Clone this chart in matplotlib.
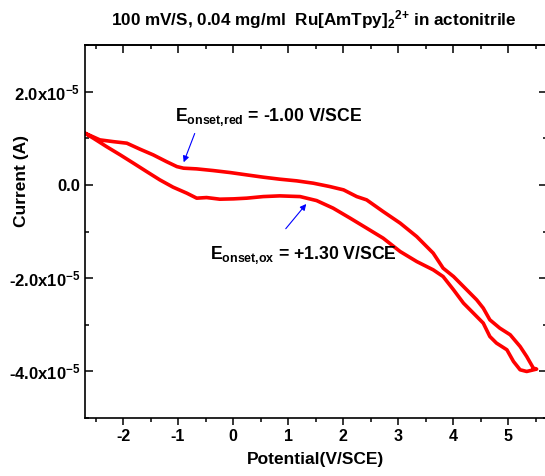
import matplotlib
matplotlib.use("Agg")
import matplotlib.pyplot as plt
from matplotlib.ticker import MultipleLocator, FixedLocator, FixedFormatter

plt.rcParams['font.family'] = ['Liberation Sans', 'DejaVu Sans']
plt.rcParams['font.weight'] = 'bold'
plt.rcParams['axes.unicode_minus'] = False
plt.rcParams['mathtext.fontset'] = 'custom'
plt.rcParams['mathtext.rm'] = 'Liberation Sans:bold'
plt.rcParams['mathtext.it'] = 'Liberation Sans:bold'
plt.rcParams['mathtext.bf'] = 'Liberation Sans:bold'

# Cyclic voltammogram (potential V/SCE, current in units of 1e-5 A)
potential = [-2.69, -2.42, -2.18, -1.93, -1.69, -1.45, -1.21, -1.02, -0.90, -0.66,
             -0.36, -0.05, 0.25, 0.55, 0.85, 1.16, 1.46, 1.76, 2.01, 2.25,
             2.43, 2.73, 3.04, 3.34, 3.64, 3.82, 4.01, 4.25, 4.43, 4.55,
             4.67, 4.85, 5.04, 5.22, 5.34, 5.46, 5.52,
             5.34, 5.22, 5.10, 4.98, 4.79, 4.67, 4.55, 4.37, 4.19,
             4.01, 3.82, 3.64, 3.34, 3.04, 2.73, 2.43, 2.13, 1.82, 1.52,
             1.22, 0.85, 0.55, 0.25, 0.01, -0.24, -0.48, -0.66, -0.84, -1.09,
             -1.33, -1.57, -1.81, -2.05, -2.30, -2.54, -2.69]
current_e5 = [1.108, 0.965, 0.928, 0.894, 0.765, 0.643, 0.499, 0.392, 0.358, 0.343,
              0.307, 0.264, 0.214, 0.165, 0.122, 0.086, 0.036, -0.036, -0.107, -0.251,
              -0.322, -0.572, -0.821, -1.108, -1.464, -1.786, -1.966, -2.251, -2.465, -2.643,
              -2.894, -3.072, -3.215, -3.466, -3.681, -3.929, -3.951,
              -4.002, -3.966, -3.788, -3.537, -3.393, -3.252, -2.965, -2.750, -2.536,
              -2.251, -1.966, -1.822, -1.644, -1.430, -1.143, -0.928, -0.714, -0.499, -0.337,
              -0.251, -0.236, -0.251, -0.285, -0.300, -0.307, -0.272, -0.285, -0.178, -0.049,
              0.107, 0.285, 0.465, 0.643, 0.821, 1.001, 1.108]
current = [c * 1e-5 for c in current_e5]

x_ticks = [-2, -1, 0, 1, 2, 3, 4, 5]
y_ticks = [-4e-5, -2e-5, 0.0, 2e-5]
y_tick_labels = [r'-4.0x10$^{{-}5}$', r'-2.0x10$^{{-}5}$', '0.0', r'2.0x10$^{{-}5}$']

title = r'100 mV/S, 0.04 mg/ml  Ru[AmTpy]$_2$$^{2{+}}$ in actonitrile'
xlabel = 'Potential(V/SCE)'
ylabel = 'Current (A)'
ann_red = r'E$_{\mathregular{onset{,}red}}$ = -1.00 V/SCE'
ann_ox = r'E$_{\mathregular{onset{,}ox}}$ = +1.30 V/SCE'

fig = plt.figure(figsize=(5.45, 4.76), dpi=100)
ax = fig.add_axes([84.5 / 545, 58 / 476, 462 / 545, 373 / 476])

ax.plot(potential, current, color='#ff0000', lw=2.6, solid_joinstyle='round')

ax.set_xlim(-2.7, 5.7)
ax.set_ylim(-5e-5, 3e-5)

ax.xaxis.set_major_locator(FixedLocator(x_ticks))
ax.xaxis.set_minor_locator(MultipleLocator(0.5))
ax.yaxis.set_major_locator(FixedLocator(y_ticks))
ax.yaxis.set_major_formatter(FixedFormatter(y_tick_labels))
ax.yaxis.set_minor_locator(MultipleLocator(1e-5))

ax.tick_params(axis='x', which='both', direction='out', top=False, labelsize=11.5, width=1.1, pad=3)
ax.tick_params(axis='x', which='major', length=5)
ax.tick_params(axis='x', which='minor', length=3)
ax.tick_params(axis='y', which='both', direction='in', left=True, right=True, labelsize=12, width=1.1, pad=3)
ax.tick_params(axis='y', which='major', length=5.5)
ax.tick_params(axis='y', which='minor', length=3)

sec = ax.secondary_xaxis('top')
sec.xaxis.set_major_locator(FixedLocator(x_ticks))
sec.xaxis.set_minor_locator(MultipleLocator(0.5))
sec.tick_params(which='both', direction='in', labeltop=False, width=1.1)
sec.tick_params(which='major', length=6)
sec.tick_params(which='minor', length=3)
sec.spines['top'].set_linewidth(1.2)

for s in ax.spines.values():
    s.set_linewidth(1.2)

for lab in ax.get_xticklabels() + ax.get_yticklabels():
    lab.set_fontweight('bold')

ax.set_xlabel(xlabel, fontsize=12.5, fontweight='bold', labelpad=6)
fig.text(22 / 545, 1 - 181 / 476, ylabel, fontsize=12.5, fontweight='bold',
         rotation=90, ha='center', va='center')
fig.text(314 / 545, 1 - 20 / 476, title, fontsize=12.3, fontweight='bold', ha='center', va='center')

ax.text(-1.055, 1.46e-5, ann_red, fontsize=12.7, fontweight='bold', ha='left', va='center')
ax.text(-0.418, -1.50e-5, ann_ox, fontsize=12.7, fontweight='bold', ha='left', va='center')

ax.annotate('', xy=(-0.915, 0.429e-5), xytext=(-0.678, 1.158e-5),
            arrowprops=dict(arrowstyle='-|>', color='blue', lw=0.8, mutation_scale=9))
ax.annotate('', xy=(1.364, -0.364e-5), xytext=(0.927, -0.986e-5),
            arrowprops=dict(arrowstyle='-|>', color='blue', lw=0.8, mutation_scale=9))

fig.savefig('out.png', dpi=100)
